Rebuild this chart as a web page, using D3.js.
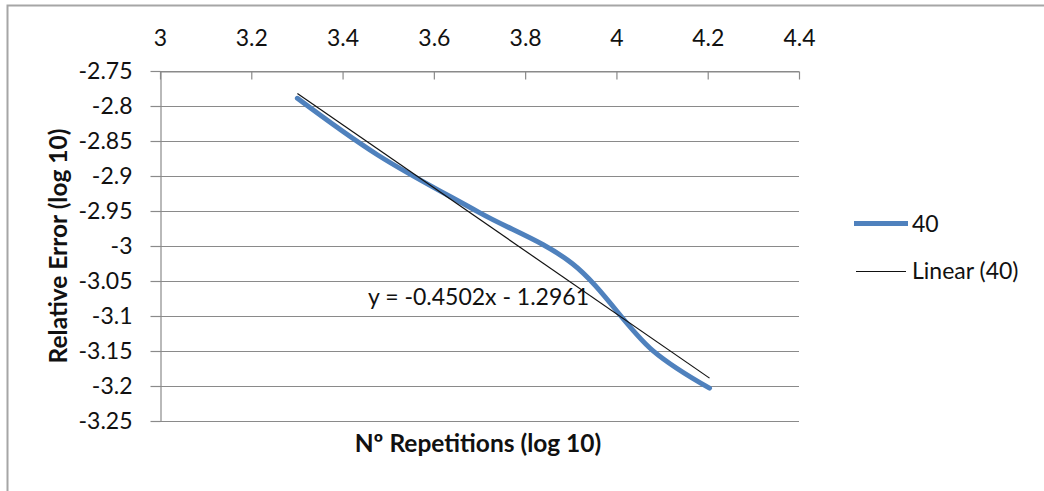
<!DOCTYPE html>
<html>
<head>
<meta charset="utf-8">
<script src="https://cdn.jsdelivr.net/npm/d3@7"></script>
<style>
    html, body { margin: 0; padding: 0; background: #fff; overflow: hidden; }
    text { font-family: Lato, "Liberation Sans", sans-serif; fill: #111; }
</style>
</head>
<body>
<div id="plot"></div>
<script>
"use strict";

// series "40": log10 of repetitions vs log10 of relative error
const repsLog = [3.301, 3.477, 3.699, 3.903, 4.079, 4.204];
const errorLog = [-2.789, -2.870, -2.952, -3.025, -3.149, -3.203];

// linear trendline shown on the chart
const trendSlope = -0.4502;
const trendIntercept = -1.2961;

const xTicks = [3, 3.2, 3.4, 3.6, 3.8, 4, 4.2, 4.4];
const yTicks = [-2.75, -2.8, -2.85, -2.9, -2.95, -3, -3.05, -3.1, -3.15, -3.2, -3.25];

const seriesName = "40";
const trendName = "Linear (40)";

let plotContainer = "";
const msm = {
    width: 1044,
    height: 491,
    left: 160,
    right: 799,
    top: 71,
    bottom: 421
}

const grid = "#8a8a8a";
const blue = "#4F81BD";

window.onload = function () {
    plotContainer = d3.select("#plot")
        .append("svg")
        .attr("width", msm.width)
        .attr("height", msm.height);

    // chart frame (right and bottom edges fall outside the picture)
    plotContainer.append("rect")
        .attr("x", 7.5)
        .attr("y", 5.5)
        .attr("width", 2000)
        .attr("height", 2000)
        .attr("fill", "none")
        .attr("stroke", "#a6a6a6")
        .attr("stroke-width", 2);

    let scalers = getScalers();
    drawGrid(scalers);
    drawAxes(scalers);
    plotData(scalers);
    drawLabels();
    drawLegend();
}

function getScalers() {
    let xScale = d3.scaleLinear()
        .domain([3, 4.4])
        .range([msm.left, msm.right]);
    let yScale = d3.scaleLinear()
        .domain([-3.25, -2.75])
        .range([msm.bottom, msm.top]);
    return { xScale: xScale, yScale: yScale };
}

function drawGrid(scalers) {
    plotContainer.append("g")
        .selectAll("line")
        .data(yTicks)
        .enter()
        .append("line")
        .attr("x1", msm.left)
        .attr("x2", msm.right)
        .attr("y1", (d) => Math.round(scalers.yScale(d)) + 0.5)
        .attr("y2", (d) => Math.round(scalers.yScale(d)) + 0.5)
        .attr("stroke", grid)
        .attr("stroke-width", 1.2);
}

function styleAxis(g) {
    g.selectAll("path").attr("stroke", grid).attr("stroke-width", 1.2);
    g.selectAll("line").attr("stroke", grid).attr("stroke-width", 1.2);
    g.selectAll("text")
        .style("font-family", "Lato, sans-serif")
        .style("font-size", "23px")
        .attr("fill", "#111");
}

function drawAxes(scalers) {
    // x labels sit above the plot, ticks point down into it
    let xAxis = d3.axisTop(scalers.xScale)
        .tickValues(xTicks)
        .tickSizeInner(-8)
        .tickSizeOuter(0)
        .tickPadding(26)
        .tickFormat((d) => String(d));
    plotContainer.append("g")
        .attr("transform", "translate(0," + (msm.top + 0.5) + ")")
        .call(xAxis)
        .call(styleAxis);

    let yAxis = d3.axisLeft(scalers.yScale)
        .tickValues(yTicks)
        .tickSize(10)
        .tickSizeOuter(0)
        .tickPadding(18)
        .tickFormat((d) => String(d));
    plotContainer.append("g")
        .attr("transform", "translate(" + (msm.left + 0.5) + ",0)")
        .call(yAxis)
        .call(styleAxis);
}

function plotData(scalers) {
    let points = repsLog.map((x, i) => [x, errorLog[i]]);

    let line = d3.line()
        .x((d) => scalers.xScale(d[0]))
        .y((d) => scalers.yScale(d[1]))
        .curve(d3.curveCatmullRom);

    plotContainer.append("path")
        .datum(points)
        .attr("d", line)
        .attr("fill", "none")
        .attr("stroke", blue)
        .attr("stroke-width", 5)
        .attr("stroke-linecap", "round");

    let xMin = d3.min(repsLog);
    let xMax = d3.max(repsLog);
    let trend = [xMin, xMax].map((x) => [x, trendSlope * x + trendIntercept]);
    plotContainer.append("path")
        .datum(trend)
        .attr("d", d3.line()
            .x((d) => scalers.xScale(d[0]))
            .y((d) => scalers.yScale(d[1])))
        .attr("fill", "none")
        .attr("stroke", "#111")
        .attr("stroke-width", 1.2);

    plotContainer.append("text")
        .attr("x", 368)
        .attr("y", 305)
        .style("font-size", "23px")
        .text("y = " + trendSlope.toFixed(4) + "x - " + Math.abs(trendIntercept).toFixed(4));
}

function drawLabels() {
    plotContainer.append("text")
        .attr("x", 478)
        .attr("y", 452)
        .attr("text-anchor", "middle")
        .style("font-size", "24.5px")
        .style("font-weight", "bold")
        .text("Nº Repetitions (log 10)");

    plotContainer.append("text")
        .attr("transform", "translate(67,246) rotate(-90)")
        .attr("text-anchor", "middle")
        .style("font-size", "24.5px")
        .style("font-weight", "bold")
        .text("Relative Error (log 10)");
}

function drawLegend() {
    let legend = plotContainer.append("g");
    legend.append("line")
        .attr("x1", 854).attr("x2", 908)
        .attr("y1", 223.5).attr("y2", 223.5)
        .attr("stroke", blue)
        .attr("stroke-width", 5);
    legend.append("text")
        .attr("x", 912)
        .attr("y", 232)
        .style("font-size", "23px")
        .text(seriesName);

    legend.append("line")
        .attr("x1", 856).attr("x2", 906)
        .attr("y1", 271.5).attr("y2", 271.5)
        .attr("stroke", "#111")
        .attr("stroke-width", 1.2);
    legend.append("text")
        .attr("x", 912)
        .attr("y", 279)
        .style("font-size", "23px")
        .text(trendName);
}
</script>
</body>
</html>
